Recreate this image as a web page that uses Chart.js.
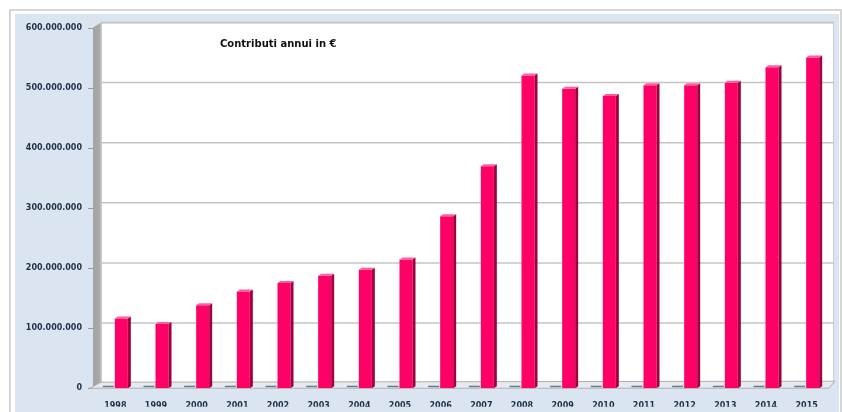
<!DOCTYPE html>
<html lang="it">
  <head>
    <meta charset="UTF-8" />
    <title>Contributi annui</title>
    <script src="https://cdn.jsdelivr.net/npm/chart.js"></script>
    <style>
      html, body { margin: 0; padding: 0; background: #ffffff; }
      .box { position: relative; width: 842px; height: 412px; }
    </style>
  </head>
  <body>
    <div class="box">
      <canvas id="barChart"></canvas>
    </div>

<script>
  // dati
  const anni = ["1998", "1999", "2000", "2001", "2002", "2003", "2004", "2005", "2006",
                "2007", "2008", "2009", "2010", "2011", "2012", "2013", "2014", "2015"];
  const contributi = [116000000, 107000000, 138000000, 161000000, 175000000, 187000000,
                      197000000, 214000000, 286000000, 369000000, 520000000, 498000000,
                      486000000, 504000000, 504000000, 508000000, 534000000, 550000000];
  const tickY = [0, 100000000, 200000000, 300000000, 400000000, 500000000, 600000000];
  const titolo = "Contributi annui in €";

  const DX = 8; // profondità 3D
  const DY = 5;

  function formatta(v) {
    return String(v).replace(/\B(?=(\d{3})+(?!\d))/g, ".");
  }

  // sfondo, pareti, griglia e pavimento in finto 3D
  const sfondo3D = {
    id: "sfondo3D",
    beforeDraw(chart) {
      const ctx = chart.ctx;
      const a = chart.chartArea;
      const y = chart.scales.y;
      ctx.save();
      ctx.fillStyle = "#ffffff";
      ctx.fillRect(0, 0, chart.width, chart.height);
      ctx.strokeStyle = "#d6d6d6";
      ctx.lineWidth = 2;
      ctx.strokeRect(10, 10, 831, 410);
      ctx.fillStyle = "#dbe5f1";
      ctx.fillRect(15, 14, 824, 398);

      const top = y.getPixelForValue(tickY[tickY.length - 1]);
      // parete di fondo
      ctx.fillStyle = "#ffffff";
      ctx.fillRect(a.left, top - DY, a.right + 1 - a.left, a.bottom - top);
      ctx.strokeStyle = "#cccccc";
      ctx.lineWidth = 1;
      ctx.strokeRect(a.left + 0.5, top - DY + 0.5, a.right - a.left, a.bottom - top);

      // griglia
      ctx.strokeStyle = "#c4c4c4";
      ctx.lineWidth = 1.5;
      tickY.forEach(v => {
        const py = y.getPixelForValue(v) - DY;
        ctx.beginPath();
        ctx.moveTo(a.left, py);
        ctx.lineTo(a.right + 1, py);
        ctx.stroke();
      });

      // parete sinistra
      const g = ctx.createLinearGradient(a.left - DX, 0, a.left, 0);
      g.addColorStop(0, "#a3a3a3");
      g.addColorStop(0.8, "#a9a9a9");
      g.addColorStop(1, "#c4c4c4");
      ctx.fillStyle = g;
      ctx.beginPath();
      ctx.moveTo(a.left - DX, top);
      ctx.lineTo(a.left, top - DY);
      ctx.lineTo(a.left, a.bottom - DY);
      ctx.lineTo(a.left - DX, a.bottom);
      ctx.closePath();
      ctx.fill();

      // tacche asse y
      ctx.strokeStyle = "#9a9a9a";
      ctx.lineWidth = 1;
      tickY.forEach(v => {
        const py = Math.round(y.getPixelForValue(v)) + 0.5;
        ctx.beginPath();
        ctx.moveTo(a.left - DX - 5, py);
        ctx.lineTo(a.left - DX, py);
        ctx.stroke();
      });

      // pavimento
      ctx.fillStyle = "#e6ebf1";
      ctx.strokeStyle = "#b0b0b0";
      ctx.beginPath();
      ctx.moveTo(a.left - DX - 3, a.bottom);
      ctx.lineTo(a.right - 4, a.bottom);
      ctx.lineTo(a.right + 2, a.bottom - DY - 2);
      ctx.lineTo(a.left, a.bottom - DY - 1);
      ctx.closePath();
      ctx.fill();
      ctx.stroke();
      ctx.restore();
    },
    afterDatasetsDraw(chart) {
      const ctx = chart.ctx;
      const meta = chart.getDatasetMeta(0);
      ctx.save();
      meta.data.forEach(bar => {
        const p = bar.getProps(["x", "y", "base", "width"], true);
        const l = p.x - p.width / 2;
        const r = p.x + p.width / 2;
        // serie a zero sul pavimento
        ctx.fillStyle = "#6a7b8b";
        ctx.fillRect(l - 12, p.base - 2.5, 11, 1.5);
        // fianco
        ctx.fillStyle = "#a0003e";
        ctx.beginPath();
        ctx.moveTo(r, p.y);
        ctx.lineTo(r + 3, p.y - 2);
        ctx.lineTo(r + 3, p.base - 2);
        ctx.lineTo(r, p.base);
        ctx.closePath();
        ctx.fill();
        // cima
        ctx.fillStyle = "#ff5c98";
        ctx.beginPath();
        ctx.moveTo(l, p.y);
        ctx.lineTo(l + 3, p.y - 2);
        ctx.lineTo(r + 3, p.y - 2);
        ctx.lineTo(r, p.y);
        ctx.closePath();
        ctx.fill();
      });
      ctx.restore();
    },
    afterDraw(chart) {
      const ctx = chart.ctx;
      ctx.save();
      ctx.font = 'bold 10px "DejaVu Sans"';
      ctx.fillStyle = "#111111";
      ctx.textBaseline = "middle";
      ctx.fillText(titolo, 220, 44);
      ctx.restore();
    }
  };

  const ctxBar = document.getElementById("barChart").getContext("2d");
  const barChart = new Chart(ctxBar, {
    type: "bar",
    data: {
      labels: anni,
      datasets: [
        {
          label: "Contributi",
          data: contributi,
          backgroundColor: "#ff0066",
          borderWidth: 0,
          barPercentage: 0.32,
          categoryPercentage: 1,
        },
      ],
    },
    options: {
      responsive: true,
      maintainAspectRatio: false,
      animation: false,
      layout: {
        padding: { top: 27.5, right: 9, bottom: 0, left: 0 },
      },
      plugins: {
        legend: { display: false },
        tooltip: { enabled: false },
      },
      scales: {
        x: {
          grid: { display: false, drawTicks: false },
          border: { display: false },
          ticks: {
            padding: 13,
            labelOffset: -6,
            color: "#1f2f45",
            font: { family: "DejaVu Sans", size: 8, weight: "bold" },
            maxRotation: 0,
            autoSkip: false,
          },
          afterFit(scale) { scale.height = 18.5; },
        },
        y: {
          min: 0,
          max: 600000000,
          grid: { display: false, drawTicks: false },
          border: { display: false },
          afterBuildTicks(scale) { scale.ticks = tickY.map(v => ({ value: v })); },
          ticks: {
            padding: 19,
            color: "#1f2f45",
            font: { family: "DejaVu Sans", size: 8, weight: "bold" },
            callback: v => formatta(v),
          },
          afterFit(scale) { scale.width = 101; },
        },
      },
    },
    plugins: [sfondo3D],
  });
</script>
  </body>
</html>
